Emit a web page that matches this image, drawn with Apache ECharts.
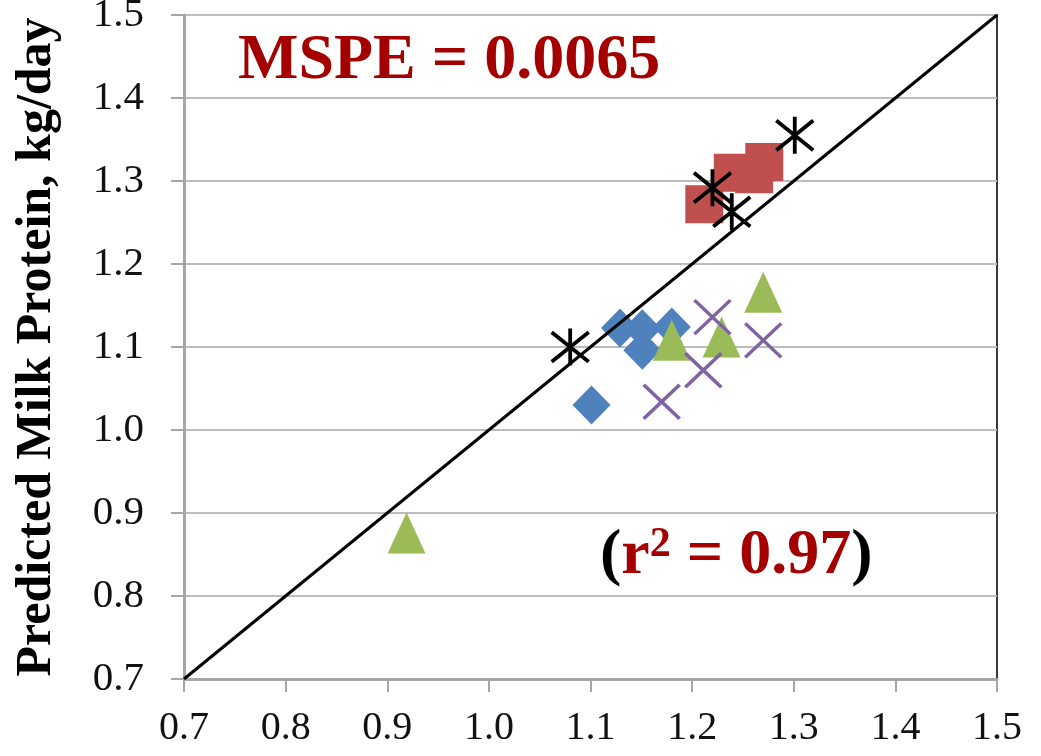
<!DOCTYPE html>
<html>
<head>
<meta charset="utf-8">
<script src="https://cdn.jsdelivr.net/npm/echarts@6/dist/echarts.min.js"></script>
<style>
html,body{margin:0;padding:0;background:#fff;}
#chart{width:1041px;height:756px;}
</style>
</head>
<body>
<div id="chart"></div>
<script>
// Observed (x) vs predicted (y) milk protein, kg/day
var diamondX = [1.101, 1.129, 1.151, 1.151, 1.180];
var diamondY = [1.030, 1.123, 1.122, 1.096, 1.124];
var squareX = [1.212, 1.240, 1.261, 1.271];
var squareY = [1.272, 1.310, 1.308, 1.323];
var triangleX = [0.919, 1.180, 1.229, 1.270];
var triangleY = [0.876, 1.108, 1.112, 1.166];
var crossX = [1.170, 1.211, 1.220, 1.270];
var crossY = [1.034, 1.072, 1.136, 1.108];
var starX = [1.080, 1.220, 1.239, 1.301];
var starY = [1.100, 1.292, 1.263, 1.355];
var lineX = [0.7, 1.5];
var lineY = [0.7, 1.5];
var axisTicks = [0.7, 0.8, 0.9, 1.0, 1.1, 1.2, 1.3, 1.4, 1.5];
var yTitle = 'Predicted Milk Protein, kg/day';
var mspeText = 'MSPE = 0.0065';
var r2Value = '0.97';

function pairs(xs, ys) { return xs.map(function (x, i) { return [x, ys[i]]; }); }

var chart = echarts.init(document.getElementById('chart'), null, {renderer: 'canvas'});
var serif = '"Liberation Serif", "Times New Roman", Times, serif';
var axisCommon = {
  type: 'value',
  min: axisTicks[0],
  max: axisTicks[axisTicks.length - 1],
  interval: 0.1,
  axisLine: {show: true, onZero: false, lineStyle: {color: '#a6a6a6', width: 3}},
  axisTick: {show: true, length: 13, lineStyle: {color: '#a6a6a6', width: 2}},
  axisLabel: {
    fontFamily: serif, fontSize: 41, color: '#111',
    formatter: function (v) { return v.toFixed(1); }
  }
};

chart.setOption({
  animation: false,
  backgroundColor: '#ffffff',
  grid: {left: 184, right: 44, top: 15, bottom: 77, containLabel: false, outerBoundsMode: 'none',
         show: true, borderColor: '#3a3a3a', borderWidth: 2, backgroundColor: 'transparent'},
  title: [
    {text: mspeText, left: 238, top: 29, padding: 0,
     textStyle: {fontFamily: serif, fontWeight: 'bold', fontSize: 64, color: '#a50000'}},
    {text: '{p|(}{r|r}{s|2}{r| = ' + r2Value + '}{p|)}', left: 600, top: 524, padding: 0,
     textStyle: {
       fontFamily: serif, fontSize: 64,
       rich: {
         p: {fontFamily: serif, fontWeight: 'bold', fontSize: 64, color: '#000'},
         r: {fontFamily: serif, fontWeight: 'bold', fontSize: 64, color: '#a50000'},
         s: {fontFamily: serif, fontWeight: 'bold', fontSize: 42, color: '#a50000', verticalAlign: 'top'}
       }
     }}
  ],
  xAxis: Object.assign({}, axisCommon, {
    axisLabel: Object.assign({}, axisCommon.axisLabel, {fontSize: 40, margin: 29}),
    splitLine: {show: false}
  }),
  yAxis: Object.assign({}, axisCommon, {
    name: yTitle,
    nameLocation: 'middle',
    nameRotate: 90,
    nameGap: 122,
    nameTextStyle: {fontFamily: serif, fontWeight: 'bold', fontSize: 50, color: '#000'},
    axisLabel: Object.assign({}, axisCommon.axisLabel, {margin: 40}),
    splitLine: {show: true, lineStyle: {color: '#bdbdbd', width: 2}}
  }),
  series: [
    {type: 'scatter', name: 'diamond', data: pairs(diamondX, diamondY), symbol: 'diamond', symbolSize: [38, 39],
     itemStyle: {color: '#4f81bd', opacity: 1}, z: 2},
    {type: 'scatter', name: 'square', data: pairs(squareX, squareY), symbol: 'rect', symbolSize: 38,
     itemStyle: {color: '#c0504d', opacity: 1}, z: 2},
    {type: 'scatter', name: 'triangle', data: pairs(triangleX, triangleY), symbol: 'triangle', symbolSize: [38, 41],
     itemStyle: {color: '#9bbb59', opacity: 1}, z: 3},
    {type: 'scatter', name: 'cross', data: pairs(crossX, crossY), symbol: 'path://M0,0L10,10M10,0L0,10', symbolSize: [36, 34],
     itemStyle: {color: 'rgba(0,0,0,0)', borderColor: '#8064a2', borderWidth: 3.5, opacity: 1}, z: 4},
    {type: 'line', name: 'identity', data: pairs(lineX, lineY), symbol: 'none', silent: true,
     lineStyle: {color: '#000', width: 3}, z: 5},
    {type: 'scatter', name: 'star', data: pairs(starX, starY), symbol: 'path://M0,1L10,9M0,9L10,1M5,0L5,10', symbolSize: [37, 37],
     itemStyle: {color: 'rgba(0,0,0,0)', borderColor: '#000', borderWidth: 3.8, opacity: 1}, z: 6}
  ]
});
</script>
</body>
</html>
